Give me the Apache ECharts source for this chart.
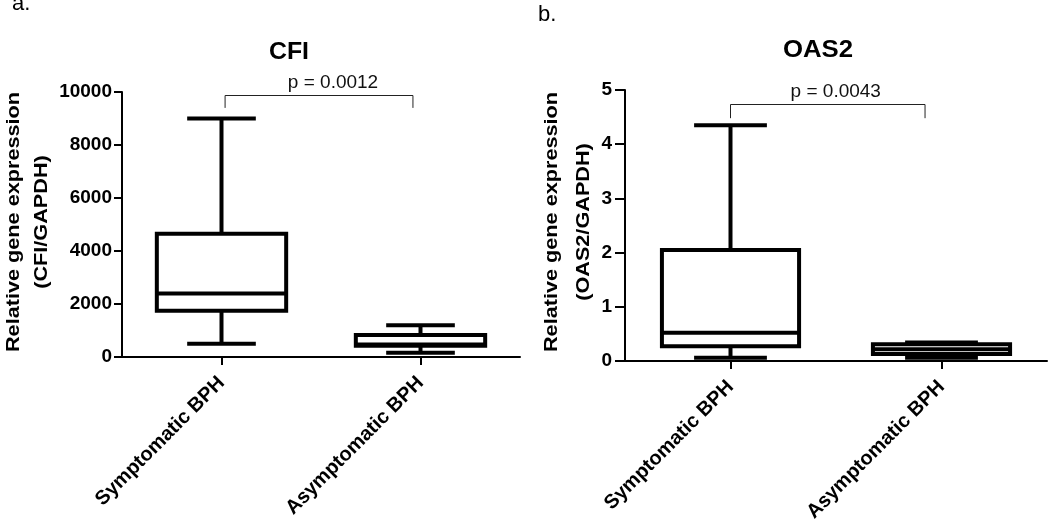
<!DOCTYPE html>
<html><head><meta charset="utf-8">
<script src="https://cdn.jsdelivr.net/npm/echarts@6/dist/echarts.min.js"></script>
<style>html,body{margin:0;padding:0;background:#fff}#c{width:1050px;height:530px}</style>
</head><body><div id="c"></div>
<script>
// ---------- data ----------
const categories = ['Symptomatic BPH', 'Asymptomatic BPH'];
// each box: [min, Q1, median, Q3, max]
const cfiSymptomatic  = [500, 1750, 2400, 4650, 9000];
const cfiAsymptomatic = [160, 420, 470, 830, 1200];
const oas2Symptomatic  = [0.06, 0.27, 0.52, 2.05, 4.35];
const oas2Asymptomatic = [0.06, 0.13, 0.215, 0.31, 0.34];
const cfiAxis  = { min: 0, max: 10000, interval: 2000 };
const oas2Axis = { min: 0, max: 5, interval: 1 };
// significance bracket: [bar level, foot level]
const cfiBracket  = [9900, 9400];
const oas2Bracket = [4.74, 4.48];
const pValues = ['p = 0.0012', 'p = 0.0043'];
const titles = ['CFI', 'OAS2'];
const yNamesA = ['Relative gene expression', '(CFI/GAPDH)'];
const yNamesB = ['Relative gene expression', '(OAS2/GAPDH)'];
const panelLetters = ['a.', 'b.'];

// ---------- rendering ----------
const FONT = '"Liberation Sans", Arial, Helvetica, sans-serif';
const chart = echarts.init(document.getElementById('c'), null, { renderer: 'canvas' });

function boxItem(params, api) {
  const x = api.value(0);
  const band = api.size([1, 0])[0];
  const bw = band * 0.65, cw = band * 0.345;
  const p = k => api.coord([x, api.value(k)]);
  const pMin = p(1), pQ1 = p(2), pMed = p(3), pQ3 = p(4), pMax = p(5);
  const cx = pMin[0];
  const st = { stroke: '#000', lineWidth: 4, fill: null };
  return { type: 'group', children: [
    { type: 'line', shape: { x1: cx, y1: pMax[1], x2: cx, y2: pQ3[1] }, style: st },
    { type: 'line', shape: { x1: cx, y1: pQ1[1], x2: cx, y2: pMin[1] }, style: st },
    { type: 'line', shape: { x1: cx - cw / 2, y1: pMax[1], x2: cx + cw / 2, y2: pMax[1] }, style: st },
    { type: 'line', shape: { x1: cx - cw / 2, y1: pMin[1], x2: cx + cw / 2, y2: pMin[1] }, style: st },
    { type: 'rect', shape: { x: cx - bw / 2, y: pQ3[1], width: bw, height: pQ1[1] - pQ3[1] },
      style: { stroke: '#000', lineWidth: 4, fill: '#fff' } },
    { type: 'line', shape: { x1: cx - bw / 2, y1: pMed[1], x2: cx + bw / 2, y2: pMed[1] }, style: st }
  ]};
}

function bracketRenderer(leftInset, rightInset, textDx, label) {
  return function (params, api) {
    const band = api.size([1, 0])[0];
    const l = api.coord([0, api.value(1)]);
    const r = api.coord([1, api.value(1)]);
    const foot = api.coord([0, api.value(2)])[1];
    const lx = l[0] + band * leftInset, rx = r[0] - band * rightInset, ty = Math.round(l[1]) + 0.5;
    return { type: 'group', children: [
      { type: 'polyline', shape: { points: [[lx, foot], [lx, ty], [rx, ty], [rx, foot]] },
        style: { stroke: '#222', lineWidth: 1, fill: null } },
      { type: 'text', x: (lx + rx) / 2 + textDx, y: ty - 13,
        style: { text: label, fill: '#111', fontSize: 19, fontFamily: FONT, align: 'center', verticalAlign: 'middle' } }
    ]};
  };
}

function yAxisCfg(gridIndex, ax, margin, tickLen) {
  return {
    type: 'value', gridIndex, min: ax.min, max: ax.max, interval: ax.interval,
    splitLine: { show: false },
    axisLine: { show: true, lineStyle: { color: '#000', width: 2 } },
    axisTick: { show: true, length: tickLen, lineStyle: { color: '#000', width: 2 } },
    axisLabel: { margin, color: '#000', fontSize: 19, fontWeight: 'bold', fontFamily: FONT,
      formatter: v => String(v) }
  };
}
function xAxisCfg(gridIndex) {
  return {
    type: 'category', gridIndex, data: categories,
    axisLine: { show: true, lineStyle: { color: '#000', width: 2 } },
    axisTick: { show: true, alignWithLabel: true, length: 8, lineStyle: { color: '#000', width: 2 } },
    axisLabel: { rotate: 45, margin: 23, interval: 0, color: '#000', fontSize: 20, fontWeight: 'bold', fontFamily: FONT }
  };
}

function vText(text, x, y, size, sx) {
  return { type: 'text', x, y, rotation: Math.PI / 2, scaleX: sx, scaleY: 1,
    style: { text, fill: '#000', fontSize: size, fontWeight: 'bold', fontFamily: FONT, align: 'center', verticalAlign: 'middle' } };
}
function hText(text, x, y, size, weight, sx) {
  return { type: 'text', x, y, scaleX: sx, scaleY: 1,
    style: { text, fill: '#000', fontSize: size, fontWeight: weight, fontFamily: FONT, align: 'center', verticalAlign: 'middle' } };
}

const option = {
  backgroundColor: '#fff',
  animation: false,
  grid: [
    { left: 122, right: 530, top: 92, bottom: 173 },
    { left: 625, right: 3, top: 90, bottom: 169 }
  ],
  xAxis: [xAxisCfg(0), xAxisCfg(1)],
  yAxis: [yAxisCfg(0, cfiAxis, 10, 8), yAxisCfg(1, oas2Axis, 13, 10)],
  series: [
    { type: 'custom', xAxisIndex: 0, yAxisIndex: 0, renderItem: boxItem,
      encode: { x: 0, y: [1, 2, 3, 4, 5] },
      data: [[0].concat(cfiSymptomatic), [1].concat(cfiAsymptomatic)] },
    { type: 'custom', xAxisIndex: 1, yAxisIndex: 1, renderItem: boxItem,
      encode: { x: 0, y: [1, 2, 3, 4, 5] },
      data: [[0].concat(oas2Symptomatic), [1].concat(oas2Asymptomatic)] },
    { type: 'custom', xAxisIndex: 0, yAxisIndex: 0, renderItem: bracketRenderer(0.018, 0.038, 14, pValues[0]),
      encode: { x: 0, y: [1, 2] }, data: [[0].concat(cfiBracket)] },
    { type: 'custom', xAxisIndex: 1, yAxisIndex: 1, renderItem: bracketRenderer(0, 0.078, 8, pValues[1]),
      encode: { x: 0, y: [1, 2] }, data: [[0].concat(oas2Bracket)] }
  ],
  graphic: [
    { type: 'text', x: 12, y: 4, style: { text: panelLetters[0], fill: '#000', fontSize: 22, fontFamily: FONT, align: 'left', verticalAlign: 'middle' } },
    { type: 'text', x: 538, y: 15, style: { text: panelLetters[1], fill: '#000', fontSize: 22, fontFamily: FONT, align: 'left', verticalAlign: 'middle' } },
    hText(titles[0], 289, 53, 23, 'bold', 1.08),
    hText(titles[1], 818, 51, 23, 'bold', 1.12),
    vText(yNamesA[0], 14, 222, 19, 1.14),
    vText(yNamesA[1], 42, 222, 19, 1.14),
    vText(yNamesB[0], 552, 222, 19, 1.14),
    vText(yNamesB[1], 584, 222, 19, 1.14)
  ]
};
chart.setOption(option);
</script>
</body></html>
